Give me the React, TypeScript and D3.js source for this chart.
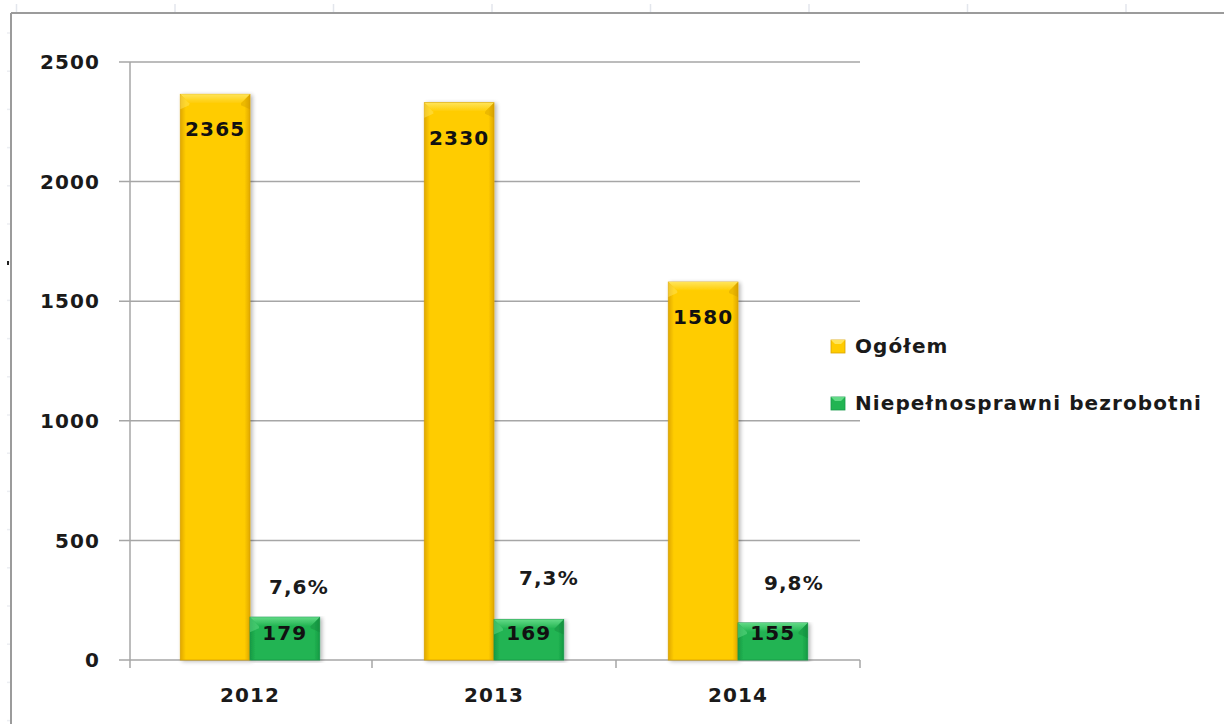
import React from "react";
import * as d3 from "d3";

const years = ["2012", "2013", "2014"];
const seriesNames = ["Ogółem", "Niepełnosprawni bezrobotni"];
const ogolem = [2365, 2330, 1580];
const niepelnosprawni = [179, 169, 155];
const percentLabels = ["7,6%", "7,3%", "9,8%"];
const yTicks = [0, 500, 1000, 1500, 2000, 2500];

const W = 1224;
const H = 724;
const FONT = "'DejaVu Sans', Verdana, sans-serif";
const LS = 1.1;

const palettes = [
  { edge: "#E0A800", mid: "#FFCC00", light: "#FFE45A", dark: "#C89400", stroke: "#D9A400" },
  { edge: "#169A44", mid: "#22B452", light: "#62DA86", dark: "#0E7E36", stroke: "#17994A" },
];

// layout offsets for the percent annotations (not data)
const pctDx = [14, 20, 21];
const pctDy = [-66, -75, -70];

export default function App() {
  const left = 128;
  const axisX = 130;
  const right = 860;
  const top = 62;
  const bottom = 660;

  const x = d3.scaleBand<string>().domain(years).range([left, right]).padding(0);
  const xs = d3
    .scaleBand<string>()
    .domain(seriesNames)
    .range([0, x.bandwidth()])
    .paddingInner(0)
    .paddingOuter(0.75);
  const y = d3.scaleLinear().domain([0, 2500]).range([bottom, top]);

  const series = [ogolem, niepelnosprawni];
  const bw = xs.bandwidth();

  const colTicks = d3.range(8).map((i) => 16.5 + i * 158.5);
  const rowTicks = d3.range(19).map((i) => 33 + i * 38.2);

  const bevel = 9;

  const txt = {
    fontFamily: FONT,
    fontWeight: "bold" as const,
    fontSize: 20,
    letterSpacing: LS,
  };

  return (
    <div style={{ position: "fixed", left: 0, top: 0, width: W, height: H, background: "#fff" }}>
      <svg width={W} height={H} style={{ display: "block" }}>
        <defs>
          {palettes.map((p, i) => (
            <linearGradient key={i} id={`body${i}`} x1="0" x2="1" y1="0" y2="0">
              <stop offset="0" stopColor={p.edge} />
              <stop offset="0.08" stopColor={p.mid} />
              <stop offset="0.92" stopColor={p.mid} />
              <stop offset="1" stopColor={p.edge} />
            </linearGradient>
          ))}
          {palettes.map((p, i) => (
            <linearGradient key={"t" + i} id={`top${i}`} x1="0" x2="0" y1="0" y2="1">
              <stop offset="0" stopColor={p.light} />
              <stop offset="1" stopColor={p.mid} />
            </linearGradient>
          ))}
          <filter id="shadow" x="-20%" y="-5%" width="140%" height="110%">
            <feGaussianBlur in="SourceAlpha" stdDeviation="2" />
            <feOffset dx="2" dy="1" result="b" />
            <feComponentTransfer>
              <feFuncA type="linear" slope="0.3" />
            </feComponentTransfer>
            <feMerge>
              <feMergeNode />
              <feMergeNode in="SourceGraphic" />
            </feMerge>
          </filter>
        </defs>

        {/* spreadsheet background hints */}
        {colTicks.map((cx, i) => (
          <line key={"c" + i} x1={cx} x2={cx} y1={4} y2={12} stroke="#e3e6ec" strokeWidth={1.5} />
        ))}
        {rowTicks.map((ry, i) => (
          <line key={"r" + i} x1={7} x2={10} y1={ry} y2={ry} stroke="#eceef2" strokeWidth={1.5} />
        ))}
        <rect x={7} y={261} width={2} height={4} fill="#222" />

        {/* chart frame */}
        <line x1={11} x2={W} y1={13} y2={13} stroke="#9b9b9b" strokeWidth={2} />
        <line x1={11} x2={11} y1={13} y2={H} stroke="#9b9b9b" strokeWidth={2} />

        {/* gridlines */}
        {yTicks.map((t) => (
          <line key={t} x1={axisX - 11} x2={right} y1={y(t)} y2={y(t)} stroke="#a6a6a6" strokeWidth={1.5} />
        ))}
        {/* y axis */}
        <line x1={axisX} x2={axisX} y1={top} y2={bottom + 8} stroke="#a6a6a6" strokeWidth={1.5} />
        {/* category ticks */}
        {years.map((yr, i) => {
          const tx = i === years.length - 1 ? right : (x(yr) as number) + x.bandwidth();
          return (
            <line key={"ct" + yr} x1={tx} x2={tx} y1={bottom} y2={bottom + 8} stroke="#a6a6a6" strokeWidth={1.5} />
          );
        })}

        {/* y tick labels */}
        {yTicks.map((t) => (
          <text key={"l" + t} x={100} y={y(t)} dy="0.36em" textAnchor="end" {...txt} fill="#1a1a1a">
            {t}
          </text>
        ))}

        {/* bars */}
        {series.map((vals, si) =>
          years.map((yr, ci) => {
            const bx = (x(yr) as number) + (xs(seriesNames[si]) as number);
            const by = y(vals[ci]);
            const bh = y(0) - by;
            const p = palettes[si];
            return (
              <g key={si + "-" + yr} filter="url(#shadow)">
                <rect x={bx} y={by} width={bw} height={bh} fill={`url(#body${si})`} stroke={p.stroke} strokeWidth={0.8} />
                <polygon
                  points={`${bx},${by} ${bx + bw},${by} ${bx + bw - bevel},${by + bevel} ${bx + bevel},${by + bevel}`}
                  fill={`url(#top${si})`}
                />
                <polygon
                  points={`${bx},${by} ${bx + bevel},${by + bevel} ${bx + bevel},${by + bevel + 2} ${bx},${by + bevel + 6}`}
                  fill={p.light}
                  opacity={0.5}
                />
                <polygon
                  points={`${bx + bw},${by} ${bx + bw - bevel},${by + bevel} ${bx + bw - bevel},${by + bevel + 2} ${bx + bw},${by + bevel + 6}`}
                  fill={p.dark}
                  opacity={0.35}
                />
              </g>
            );
          })
        )}

        {/* value labels */}
        {ogolem.map((v, ci) => (
          <text
            key={"vo" + ci}
            x={(x(years[ci]) as number) + (xs(seriesNames[0]) as number) + bw / 2}
            y={y(v) + 42}
            textAnchor="middle"
            {...txt}
            fill="#111"
          >
            {v}
          </text>
        ))}
        {niepelnosprawni.map((v, ci) => (
          <text
            key={"vn" + ci}
            x={(x(years[ci]) as number) + (xs(seriesNames[1]) as number) + bw / 2}
            y={y(0) - 20}
            textAnchor="middle"
            {...txt}
            fill="#111"
          >
            {v}
          </text>
        ))}
        {percentLabels.map((s, ci) => (
          <text
            key={"p" + ci}
            x={(x(years[ci]) as number) + (xs(seriesNames[1]) as number) + bw / 2 + pctDx[ci]}
            y={y(0) + pctDy[ci]}
            textAnchor="middle"
            {...txt}
            fill="#1a1a1a"
          >
            {s}
          </text>
        ))}

        {/* x labels */}
        {years.map((yr) => (
          <text
            key={"x" + yr}
            x={(x(yr) as number) + x.bandwidth() / 2}
            y={702}
            textAnchor="middle"
            {...txt}
            fill="#1a1a1a"
          >
            {yr}
          </text>
        ))}

        {/* legend */}
        {seriesNames.map((n, i) => {
          const ly = 353 + i * 57;
          const p = palettes[i];
          return (
            <g key={"lg" + i}>
              <rect x={831} y={ly - 13} width={14} height={13} fill={p.mid} stroke={p.stroke} strokeWidth={0.8} />
              <polygon points={`831,${ly - 13} 845,${ly - 13} 841,${ly - 9} 835,${ly - 9}`} fill={p.light} />
              <text x={855} y={ly} {...txt} fill="#1a1a1a">
                {n}
              </text>
            </g>
          );
        })}
      </svg>
    </div>
  );
}
